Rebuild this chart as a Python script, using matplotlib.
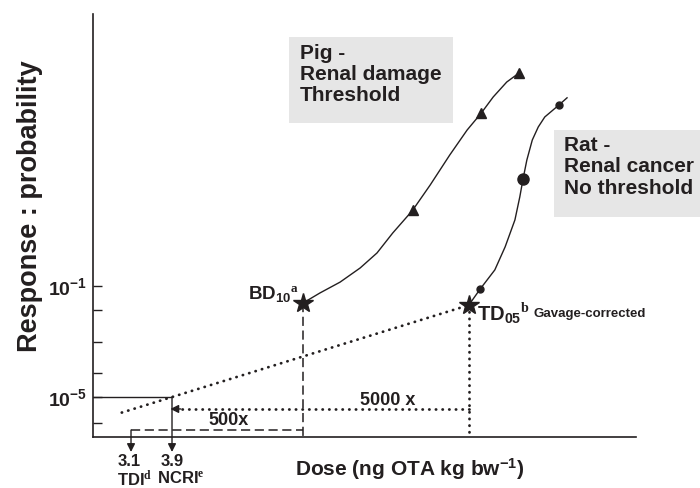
import numpy as np
import matplotlib.pyplot as plt
from matplotlib.patches import Rectangle

plt.rcParams['font.family'] = ['Liberation Sans', 'DejaVu Sans']
plt.rcParams['font.weight'] = 'bold'
plt.rcParams['mathtext.fontset'] = 'custom'
plt.rcParams['mathtext.rm'] = 'Liberation Serif'
plt.rcParams['mathtext.bf'] = 'Liberation Sans:bold'
plt.rcParams['mathtext.it'] = 'Liberation Sans:italic'

INK = '#231f20'

# Schematic units: x = dose position, y = log10(response)
pig_x = [38.7, 41.8, 45.5, 49.2, 52.3, 55.2, 57.8, 58.9, 62.1, 65.7, 68.9, 71.5, 73.7, 76.2, 78.5]
pig_y = [-1.61, -1.25, -0.86, -0.35, 0.19, 0.91, 1.49, 1.74, 2.64, 3.72, 4.62, 5.23, 5.81, 6.35, 6.68]
pig_pts_x = [58.9, 71.5, 78.5]
pig_pts_y = [1.74, 5.23, 6.68]

rat_x = [69.2, 71.3, 74.0, 75.9, 77.7, 78.6, 79.2, 79.9, 80.9, 82.0, 83.2, 85.8, 87.3]
rat_y = [-1.69, -1.11, -0.42, 0.41, 1.38, 2.21, 2.86, 3.54, 4.26, 4.73, 5.09, 5.52, 5.78]
rat_small_x = [71.3, 85.8]
rat_small_y = [-1.11, 5.52]
rat_big_x = [79.2]
rat_big_y = [2.86]

bd10 = (38.7, -1.61)
td05 = (69.2, -1.69)
tdi_x = 7.0
ncri_x = 14.55
extrap_x = [5.3, ncri_x, td05[0]]
extrap_y = [-5.56, -5.0, td05[1]]

ytick_pos = [-1, -1.87, -3.02, -4.14, -5.0, -5.94]
ytick_lab = [r'$\mathbf{10^{-1}}$', '', '', '', r'$\mathbf{10^{-5}}$', '']

xmin, xmax = 0, 100
ymin, ymax = -6.44, 8.8

fig = plt.figure(figsize=(7, 4.88), dpi=100)
ax = fig.add_axes([93 / 700, 51 / 488, 543 / 700, 423 / 488])
ax.set_xlim(xmin, xmax)
ax.set_ylim(ymin, ymax)
for s in ['top', 'right']:
    ax.spines[s].set_visible(False)
for s in ['left', 'bottom']:
    ax.spines[s].set_linewidth(1.2)
    ax.spines[s].set_color(INK)
ax.set_xticks([])
ax.set_yticks(ytick_pos)
ax.set_yticklabels(ytick_lab, fontsize=14, color=INK)
ax.tick_params(axis='y', direction='in', length=6.5, width=1, pad=4, colors=INK)

# curves
ax.plot(pig_x, pig_y, color=INK, lw=1)
ax.plot(pig_pts_x, pig_pts_y, '^', color=INK, ms=7)
ax.plot(rat_x, rat_y, color=INK, lw=1)
ax.plot(rat_small_x, rat_small_y, 'o', color=INK, ms=5)
ax.plot(rat_big_x, rat_big_y, 'o', color=INK, ms=8)

dotted = dict(color=INK, lw=2.0, ls=(0, (0.1, 2.3)), dash_capstyle='round')
dashed = dict(color=INK, lw=1.1, ls=(0, (6, 3)))

# low dose extrapolation
ax.plot(extrap_x, extrap_y, **dotted)
ax.plot([td05[0], td05[0]], [td05[1], ymin], **dotted)
ax.plot([td05[0], ncri_x + 1.5], [-5.43, -5.43], **dotted)
ax.annotate('', xy=(ncri_x - 0.3, -5.43), xytext=(ncri_x + 1.6, -5.43),
            arrowprops=dict(arrowstyle='-|>', color=INK, lw=1, mutation_scale=12,
                            shrinkA=0, shrinkB=0))

# threshold / BD10 margin
ax.plot([bd10[0], bd10[0]], [bd10[1], ymin], **dashed)
ax.plot([tdi_x, bd10[0]], [-6.19, -6.19], **dashed)

# 10^-5 line and arrows to axis labels
ax.plot([xmin, ncri_x], [-5.0, -5.0], color=INK, lw=1)
ax.annotate('', xy=(ncri_x, -6.98), xytext=(ncri_x, -5.0), annotation_clip=False,
            arrowprops=dict(arrowstyle='-|>', color=INK, lw=1, mutation_scale=12,
                            shrinkA=0, shrinkB=0, clip_on=False))
ax.annotate('', xy=(tdi_x, -6.98), xytext=(tdi_x, -6.19), annotation_clip=False,
            arrowprops=dict(arrowstyle='-|>', color=INK, lw=1, mutation_scale=12,
                            shrinkA=0, shrinkB=0, clip_on=False))

ax.plot(*bd10, marker='*', color=INK, ms=15, clip_on=False)
ax.plot(*td05, marker='*', color=INK, ms=15, clip_on=False)

# labels
ax.text(37.9, -1.33, r'BD$_{\mathbf{10}}{}^{\mathrm{a}}$', ha='right', va='center', fontsize=13.5, color=INK)
ax.text(70.7, -1.97, r'TD$_{\mathbf{05}}{}^{\mathrm{b}}$', ha='left', va='center', fontsize=14.5, color=INK)
ax.text(81.2, -2.02, 'Gavage-corrected', ha='left', va='center', fontsize=9.5, color=INK)
ax.text(24.9, -5.86, '500x', ha='center', va='center', fontsize=13, color=INK)
ax.text(54.3, -5.14, '5000 x', ha='center', va='center', fontsize=13, color=INK)
ax.text(6.6, -7.34, '3.1', ha='center', va='center', fontsize=12, color=INK)
ax.text(14.5, -7.34, '3.9', ha='center', va='center', fontsize=12, color=INK)
ax.text(7.7, -7.92, r'TDI$^{\mathrm{d}}$', ha='center', va='center', fontsize=12, color=INK)
ax.text(16.2, -7.92, r'NCRI$^{\mathrm{e}}$', ha='center', va='center', fontsize=12, color=INK)

# grey boxes
ax.add_patch(Rectangle((36.1, 4.87), 30.2, 3.10, facecolor='#e6e6e6', edgecolor='none', clip_on=False, zorder=0))
ax.text(38.1, 7.72, 'Pig -\nRenal damage\nThreshold', ha='left', va='top', fontsize=15,
        color=INK, linespacing=1.15)
ax.add_patch(Rectangle((84.9, 1.49), 27.0, 3.13, facecolor='#e6e6e6', edgecolor='none', clip_on=False, zorder=0))
ax.text(86.7, 4.40, 'Rat -\nRenal cancer\nNo threshold', ha='left', va='top', fontsize=15,
        color=INK, linespacing=1.15)

fig.text(410 / 700, 1 - 469 / 488, r'Dose (ng OTA kg bw$^{\mathbf{-1}}$)', ha='center', va='center',
         fontsize=15, color=INK)
fig.text(30 / 700, 1 - 206 / 488, 'Response : probability', ha='center', va='center',
         rotation=90, fontsize=19.5, color=INK)

fig.savefig('out.png', dpi=100)
